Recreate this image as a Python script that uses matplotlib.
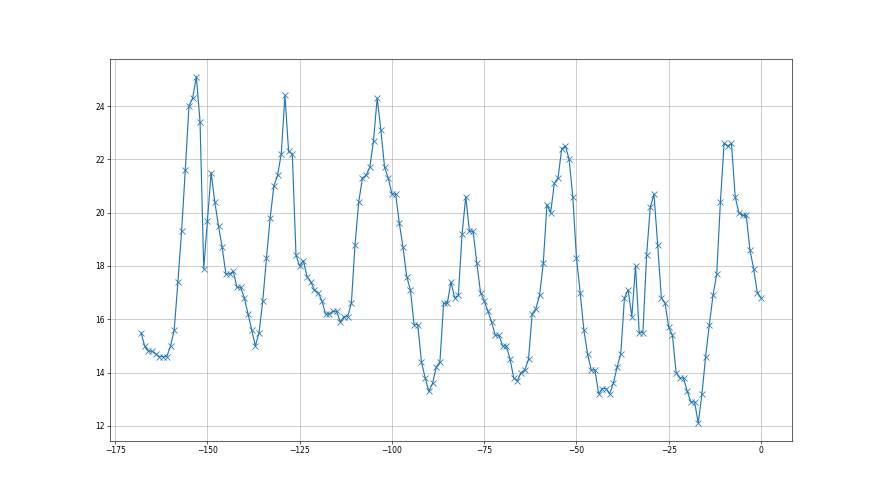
import numpy as np
import matplotlib
matplotlib.use('Agg')
import matplotlib.pyplot as plt

# day offsets (last point is today = 0)
days = np.arange(-168, 1)

values = [
    15.5, 15.0, 14.8, 14.8, 14.7, 14.6, 14.6, 14.6, 15.0, 15.6,   # -168..-159
    17.4, 19.3, 21.6, 24.0, 24.3, 25.1, 23.4, 17.9, 19.7, 21.5,   # -158..-149
    20.4, 19.5, 18.7, 17.7, 17.7, 17.8, 17.2, 17.2, 16.8, 16.2,   # -148..-139
    15.6, 15.0, 15.5, 16.7, 18.3, 19.8, 21.0, 21.4, 22.2, 24.4,   # -138..-129
    22.3, 22.2, 18.4, 18.0, 18.2, 17.6, 17.4, 17.1, 17.0, 16.7,   # -128..-119
    16.2, 16.2, 16.3, 16.3, 15.9, 16.1, 16.1, 16.6, 18.8, 20.4,   # -118..-109
    21.3, 21.4, 21.7, 22.7, 24.3, 23.1, 21.7, 21.3, 20.7, 20.7,   # -108..-99
    19.6, 18.7, 17.6, 17.1, 15.8, 15.8, 14.4, 13.8, 13.3, 13.6,   # -98..-89
    14.2, 14.4, 16.6, 16.6, 17.4, 16.8, 16.9, 19.2, 20.6, 19.3,   # -88..-79
    19.3, 18.1, 17.0, 16.7, 16.3, 15.9, 15.4, 15.4, 15.0, 15.0,   # -78..-69
    14.5, 13.8, 13.7, 14.0, 14.1, 14.5, 16.2, 16.4, 16.9, 18.1,   # -68..-59
    20.3, 20.0, 21.1, 21.3, 22.4, 22.5, 22.0, 20.6, 18.3, 17.0,   # -58..-49
    15.6, 14.7, 14.1, 14.1, 13.2, 13.4, 13.4, 13.2, 13.6, 14.2,   # -48..-39
    14.7, 16.8, 17.1, 16.1, 18.0, 15.5, 15.5, 18.4, 20.2, 20.7,   # -38..-29
    18.8, 16.8, 16.6, 15.7, 15.4, 14.0, 13.8, 13.8, 13.3, 12.9,   # -28..-19
    12.9, 12.1, 13.2, 14.6, 15.8, 16.9, 17.7, 20.4, 22.6, 22.5,   # -18..-9
    22.6, 20.6, 20.0, 19.9, 19.9, 18.6, 17.9, 17.0, 16.8,         # -8..0
]


def main():
    fig, ax = plt.subplots(figsize=(16, 9), dpi=55)
    ax.plot(days, values, marker='x', markersize=8, color='#1f77b4')
    ax.grid(True)


if __name__ == '__main__':
    main()
    plt.savefig('out.png')
